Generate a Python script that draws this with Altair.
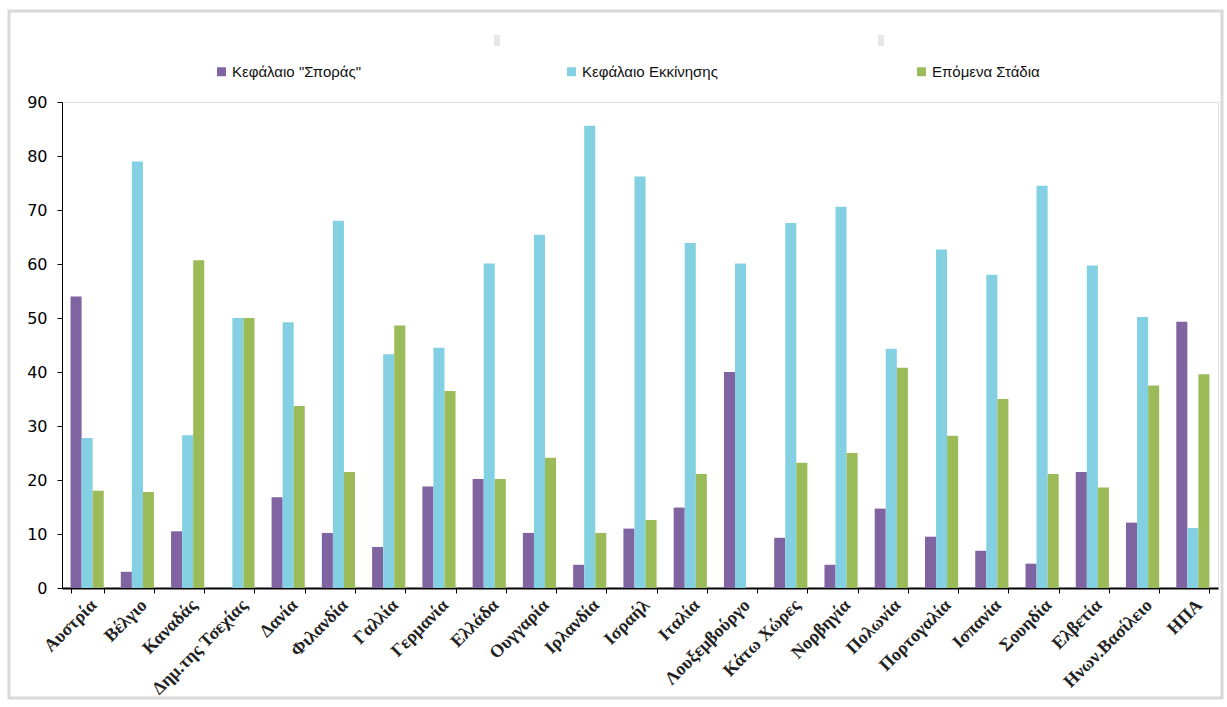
import altair as alt
import pandas as pd

countries = ["Αυστρία", "Βέλγιο", "Καναδάς", "Δημ.της Τσεχίας", "Δανία", "Φιλανδία",
             "Γαλλία", "Γερμανία", "Ελλάδα", "Ουγγαρία", "Ιρλανδία", "Ισραήλ", "Ιταλία",
             "Λουξεμβούργο", "Κάτω Χώρες", "Νορβηγία", "Πολωνία", "Πορτογαλία", "Ισπανία",
             "Σουηδία", "Ελβετία", "Ηνων.Βασίλειο", "ΗΠΑ"]
seed = [54.0, 3.0, 10.5, 0.0, 16.8, 10.2, 7.6, 18.8, 20.2, 10.2, 4.3, 11.0, 14.9,
        40.0, 9.3, 4.3, 14.7, 9.5, 6.9, 4.5, 21.5, 12.1, 49.3]
startup = [27.8, 79.0, 28.3, 50.0, 49.2, 68.0, 43.3, 44.5, 60.1, 65.4, 85.6, 76.2, 63.9,
           60.1, 67.6, 70.6, 44.3, 62.7, 58.0, 74.5, 59.7, 50.2, 11.1]
later = [18.0, 17.8, 60.7, 50.0, 33.7, 21.5, 48.6, 36.5, 20.2, 24.1, 10.2, 12.6, 21.1,
         0.0, 23.2, 25.0, 40.8, 28.2, 35.0, 21.1, 18.6, 37.5, 39.6]
series = ['Κεφάλαιο "Σποράς"', "Κεφάλαιο Εκκίνησης", "Επόμενα Στάδια"]
colors = ["#8064A2", "#84D0E3", "#9BBB59"]
y_ticks = [0, 10, 20, 30, 40, 50, 60, 70, 80, 90]

rows = []
for i, c in enumerate(countries):
    for s, vals in zip(series, [seed, startup, later]):
        rows.append({"country": c, "series": s, "value": vals[i]})
df = pd.DataFrame(rows)

W, H = 1156, 486

bars = alt.Chart(df).mark_bar().encode(
    x=alt.X("country:N", sort=countries,
            scale=alt.Scale(paddingInner=0.34, paddingOuter=0.17),
            axis=alt.Axis(title=None, labelAngle=-45, labelAlign="right",
                          labelBaseline="top", labelFont="Liberation Serif",
                          labelFontSize=18, labelFontWeight="bold", labelColor="#222",
                          labelPadding=3, domainColor="black", domainWidth=2,
                          tickBand="extent", tickColor="black", tickSize=5)),
    xOffset=alt.XOffset("series:N", sort=series),
    y=alt.Y("value:Q", scale=alt.Scale(domain=[0, 90]),
            axis=alt.Axis(title=None, values=y_ticks, grid=False,
                          labelFont="DejaVu Sans", labelFontSize=16, labelColor="black",
                          domainColor="black", tickColor="black", tickSize=5,
                          labelPadding=10)),
    color=alt.Color("series:N", sort=series,
                    scale=alt.Scale(domain=series, range=colors),
                    legend=alt.Legend(title=None, orient="none", legendX=152, legendY=-38,
                                      direction="horizontal", columns=3,
                                      gridAlign="all", columnPadding=196,
                                      symbolType="square", symbolSize=80,
                                      symbolStrokeWidth=0, labelFont="Liberation Sans",
                                      labelFontSize=15, labelColor="#111",
                                      labelOffset=3)),
)

one = pd.DataFrame({"a": [0]})
frame = alt.Chart(one).mark_rect(
    fill=None, stroke="#d9d9d9", strokeWidth=3
).encode(x=alt.value(-53), x2=alt.value(1160), y=alt.value(-91), y2=alt.value(596))
sq1 = alt.Chart(one).mark_rect(color="#e6e6e6").encode(
    x=alt.value(432), x2=alt.value(438), y=alt.value(-67), y2=alt.value(-56))
sq2 = alt.Chart(one).mark_rect(color="#e6e6e6").encode(
    x=alt.value(816), x2=alt.value(822), y=alt.value(-67), y2=alt.value(-56))

chart = alt.layer(frame, sq1, sq2, bars).properties(
    width=W, height=H,
    autosize=alt.AutoSizeParams(type="none"),
    padding={"left": 62, "top": 102, "right": 9, "bottom": 119},
).configure_view(stroke=None).configure(background="white")

chart.save("out.html", embed_options={"renderer": "svg", "actions": False})
